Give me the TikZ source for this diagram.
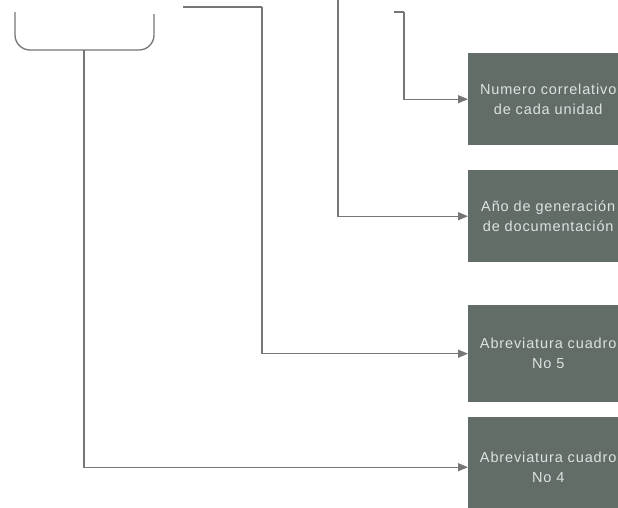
\documentclass[tikz,border=0pt]{standalone}
\usepackage{fontspec}
\setmainfont{Liberation Sans}
\newfontfamily\boxfont[LetterSpace=6]{Liberation Sans}
\usetikzlibrary{arrows.meta}
\definecolor{boxfill}{RGB}{98,109,104}
\definecolor{boxtext}{RGB}{222,226,224}
\definecolor{linegray}{RGB}{118,118,118}
\begin{document}
\begin{tikzpicture}[x=1pt,y=-1pt,
  infobox/.style={fill=boxfill, draw=none, minimum width=160pt, text=boxtext,
    align=center, font=\boxfont\fontsize{14.5}{20}\selectfont, inner sep=0pt, anchor=north west},
  link/.style={draw=linegray, line width=1.3pt},
  tip/.style={-{Triangle[length=10pt,width=8pt]}}]
\useasboundingbox (0,0) rectangle (618,507);
\clip (0,0) rectangle (618,507);
\fill[white] (0,0) rectangle (618,507);

% dark boxes on the right
\node[infobox, minimum height=92pt] (b1) at (468,53) {Numero correlativo\\de cada unidad};
\node[infobox, minimum height=92pt] (b2) at (468,170) {Año de generación\\de documentación};
\node[infobox, minimum height=97pt] (b3) at (468,305) {Abreviatura cuadro\\No 5};
\node[infobox, minimum height=100pt] (b4) at (468,417) {Abreviatura cuadro\\No 4};

% brace under the first part of the code
\draw[link, rounded corners=15pt] (15,12) -- (15,50) -- (154,50) -- (154,14);
\coordinate (s1) at (84,50);
\draw[link, tip] (s1) |- (b4.west);

% bracket under the second part
\coordinate (s2a) at (183,7);
\coordinate (s2) at (262,7);
\draw[link] (s2a) -- (s2);
\draw[link, tip] (s2) |- (b3.west);

% third part
\coordinate (s3) at (338,-2);
\draw[link, tip] (s3) |- (b2.west);

% fourth part
\coordinate (s4a) at (394,12);
\coordinate (s4) at (404,12);
\draw[link] (s4a) -- (s4);
\draw[link, tip] (s4) |- (b1.west);
\end{tikzpicture}
\end{document}
